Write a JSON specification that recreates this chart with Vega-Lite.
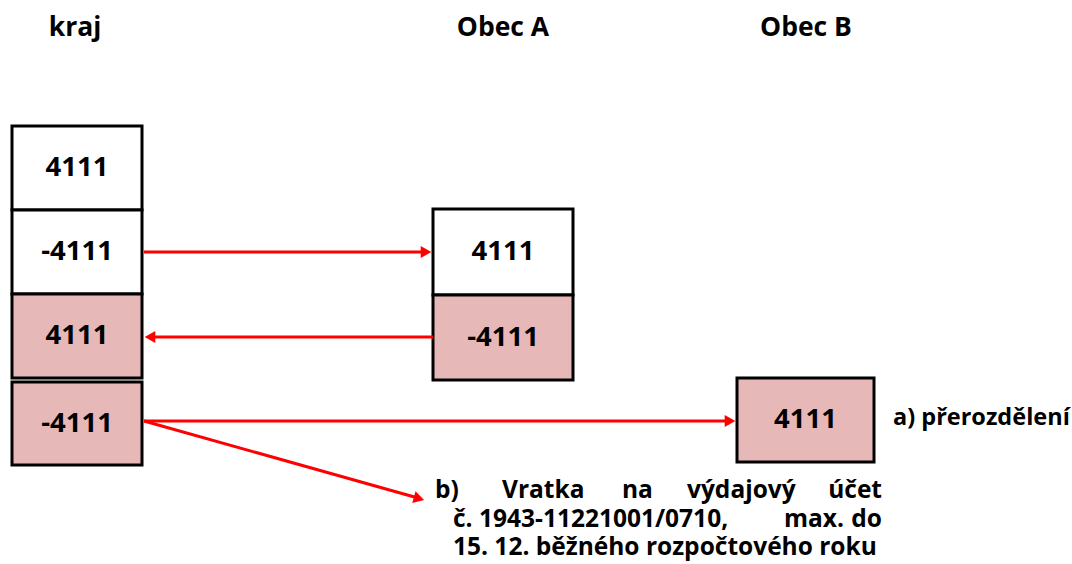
{
  "$schema": "https://vega.github.io/schema/vega-lite/v6.json",
  "width": 1072,
  "height": 564,
  "padding": 0,
  "autosize": {"type": "none"},
  "background": "white",
  "config": {"view": {"stroke": null}},
  "encoding": {
    "x": {"type": "quantitative", "scale": {"domain": [0, 1072], "nice": false, "zero": false}, "axis": null},
    "y": {"type": "quantitative", "scale": {"domain": [0, 564], "nice": false, "zero": false, "reverse": true}, "axis": null}
  },
  "layer": [
    {
      "data": {"values": [
        {"x0": 12, "x1": 142, "y0": 126, "y1": 210, "label": "4111", "shaded": "no"},
        {"x0": 12, "x1": 142, "y0": 210, "y1": 294, "label": "-4111", "shaded": "no"},
        {"x0": 12, "x1": 142, "y0": 294, "y1": 378, "label": "4111", "shaded": "yes"},
        {"x0": 12, "x1": 142, "y0": 382, "y1": 465, "label": "-4111", "shaded": "yes"},
        {"x0": 433, "x1": 573, "y0": 209, "y1": 295, "label": "4111", "shaded": "no"},
        {"x0": 433, "x1": 573, "y0": 295, "y1": 380, "label": "-4111", "shaded": "yes"},
        {"x0": 737, "x1": 874, "y0": 378, "y1": 462, "label": "4111", "shaded": "yes"}
      ]},
      "transform": [{"calculate": "(datum.x0 + datum.x1) / 2", "as": "xc"}, {"calculate": "(datum.y0 + datum.y1) / 2", "as": "yc"}],
      "layer": [
        {
          "mark": {"type": "rect", "stroke": "black", "strokeWidth": 3},
          "encoding": {
            "x": {"field": "x0"}, "x2": {"field": "x1"},
            "y": {"field": "y0"}, "y2": {"field": "y1"},
            "fill": {"field": "shaded", "type": "nominal", "scale": {"domain": ["no", "yes"], "range": ["#ffffff", "#E6B8B7"]}, "legend": null}
          }
        },
        {
          "mark": {"type": "text", "font": "Open Sans", "fontWeight": "bold", "fontSize": 27.5, "align": "center", "baseline": "middle", "color": "black"},
          "encoding": {"x": {"field": "xc"}, "y": {"field": "yc"}, "text": {"field": "label"}}
        }
      ]
    },
    {
      "data": {"values": [
        {"x0": 144, "y0": 252, "x1": 426, "y1": 252},
        {"x0": 433, "y0": 337, "x1": 150, "y1": 337},
        {"x0": 144, "y0": 421, "x1": 730, "y1": 421},
        {"x0": 144, "y0": 421, "x1": 418, "y1": 498}
      ]},
      "mark": {"type": "rule", "color": "#FF0000", "strokeWidth": 3},
      "encoding": {"x": {"field": "x0"}, "y": {"field": "y0"}, "x2": {"field": "x1"}, "y2": {"field": "y1"}}
    },
    {
      "data": {"values": [{"x": 426, "y": 252}, {"x": 730, "y": 421}]},
      "mark": {"type": "point", "shape": "triangle-right", "filled": true, "color": "#FF0000", "size": 150, "opacity": 1},
      "encoding": {"x": {"field": "x"}, "y": {"field": "y"}}
    },
    {
      "data": {"values": [{"x": 150, "y": 337}]},
      "mark": {"type": "point", "shape": "triangle-left", "filled": true, "color": "#FF0000", "size": 150, "opacity": 1},
      "encoding": {"x": {"field": "x"}, "y": {"field": "y"}}
    },
    {
      "data": {"values": [{"x": 419, "y": 498.5}]},
      "mark": {"type": "point", "shape": "triangle-right", "angle": 15.6, "filled": true, "color": "#FF0000", "size": 150, "opacity": 1},
      "encoding": {"x": {"field": "x"}, "y": {"field": "y"}}
    },
    {
      "data": {"values": [
        {"x": 75, "y": 28, "t": "kraj"},
        {"x": 503, "y": 28, "t": "Obec A"},
        {"x": 806, "y": 28, "t": "Obec B"}
      ]},
      "mark": {"type": "text", "font": "Open Sans", "fontWeight": "bold", "fontSize": 26.5, "align": "center", "baseline": "middle", "color": "black"},
      "encoding": {"x": {"field": "x"}, "y": {"field": "y"}, "text": {"field": "t"}}
    },
    {
      "data": {"values": [{"x": 893, "y": 418, "t": "a) přerozdělení"}]},
      "mark": {"type": "text", "font": "Open Sans", "fontWeight": "bold", "fontSize": 23.5, "align": "left", "baseline": "middle", "color": "black"},
      "encoding": {"x": {"field": "x"}, "y": {"field": "y"}, "text": {"field": "t"}}
    },
    {
      "data": {"values": [
        {"x": 435, "y": 491, "t": "b)", "a": "left"},
        {"x": 502, "y": 491, "t": "Vratka", "a": "left"},
        {"x": 622, "y": 491, "t": "na", "a": "left"},
        {"x": 687, "y": 491, "t": "výdajový", "a": "left"},
        {"x": 882, "y": 491, "t": "účet", "a": "right"},
        {"x": 453, "y": 519.5, "t": "č.", "a": "left"},
        {"x": 479, "y": 519.5, "t": "1943-11221001/0710,", "a": "left"},
        {"x": 784, "y": 519.5, "t": "max.", "a": "left"},
        {"x": 882, "y": 519.5, "t": "do", "a": "right"},
        {"x": 453, "y": 548, "t": "15. 12. běžného rozpočtového roku", "a": "left"}
      ]},
      "layer": [
        {
          "transform": [{"filter": "datum.a == 'left'"}],
          "mark": {"type": "text", "font": "Open Sans", "fontWeight": "bold", "fontSize": 24.5, "align": "left", "baseline": "middle", "color": "black"},
          "encoding": {"x": {"field": "x"}, "y": {"field": "y"}, "text": {"field": "t"}}
        },
        {
          "transform": [{"filter": "datum.a == 'right'"}],
          "mark": {"type": "text", "font": "Open Sans", "fontWeight": "bold", "fontSize": 24.5, "align": "right", "baseline": "middle", "color": "black"},
          "encoding": {"x": {"field": "x"}, "y": {"field": "y"}, "text": {"field": "t"}}
        }
      ]
    }
  ]
}
